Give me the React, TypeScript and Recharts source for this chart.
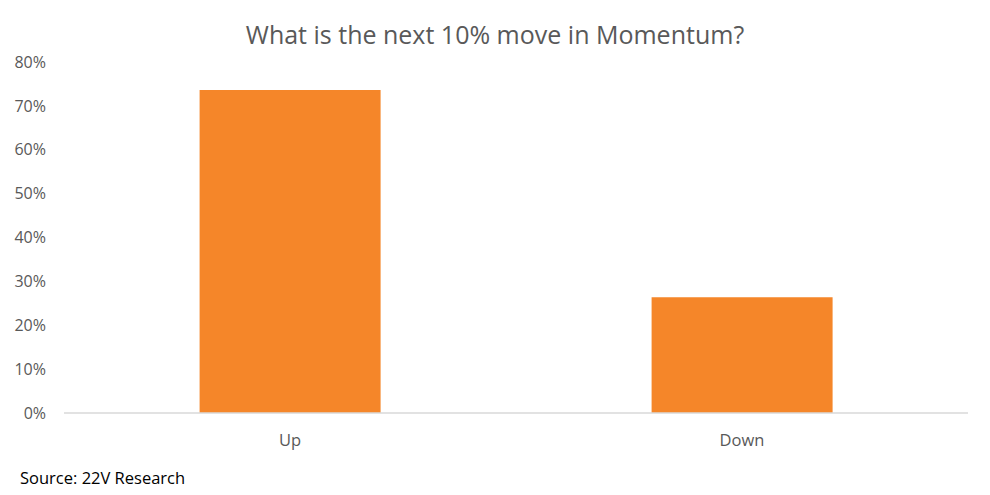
import React from "react";
import { BarChart, Bar, XAxis, YAxis } from "recharts";

const categories = ["Up", "Down"];
const shares = [73.6, 26.4];
const yTicks = [0, 10, 20, 30, 40, 50, 60, 70, 80];

const data = categories.map((c, i) => ({ name: c, value: shares[i] }));

const font = "'Open Sans', 'Liberation Sans', sans-serif";

export default function App() {
  return (
    <div style={{ position: "absolute", left: 0, top: 0, width: 990, height: 495, background: "#fff", fontFamily: font }}>
      <div style={{ position: "absolute", left: 0, top: 17, width: 990, textAlign: "center", fontSize: 25, color: "#595959" }}>
        What is the next 10% move in Momentum?
      </div>
      <BarChart width={990} height={495} data={data} margin={{ top: 62, right: 22, bottom: 52, left: 0 }} barCategoryGap="30%">
        <YAxis
          type="number"
          domain={[0, 80]}
          ticks={yTicks}
          width={64}
          axisLine={false}
          tickLine={false}
          tickSize={0}
          tickMargin={18}
          tickFormatter={(v: number) => `${v}%`}
          tick={{ fill: "#595959", fontSize: 16, fontFamily: font }}
        />
        <XAxis
          dataKey="name"
          height={30}
          axisLine={{ stroke: "#d9d9d9", strokeWidth: 1.5 }}
          tickLine={false}
          tickSize={0}
          tickMargin={21}
          tick={{ fill: "#595959", fontSize: 16.5, fontFamily: font }}
        />
        <Bar dataKey="value" fill="#f58629" isAnimationActive={false} />
      </BarChart>
      <div style={{ position: "absolute", left: 20, top: 466, fontSize: 16.5, color: "#000" }}>Source: 22V Research</div>
    </div>
  );
}
